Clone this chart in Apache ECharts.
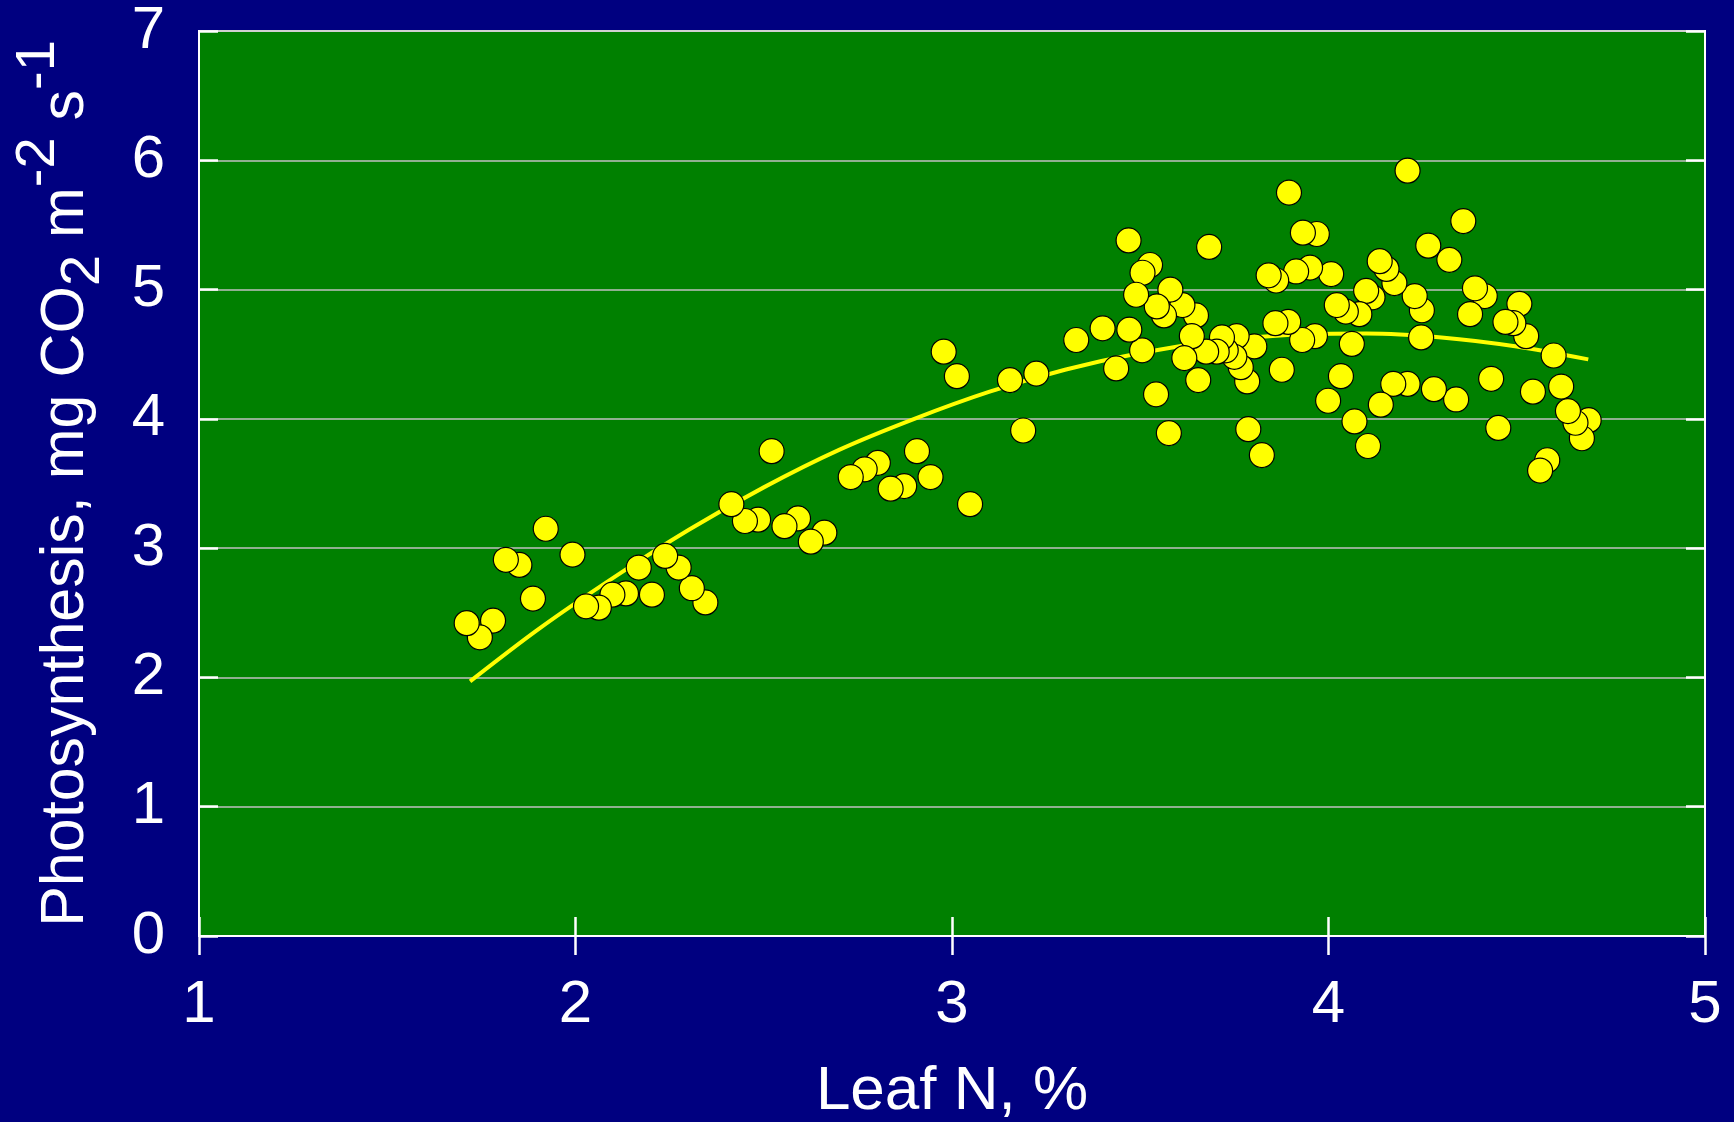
<!DOCTYPE html>
<html>
<head>
<meta charset="utf-8">
<title>Leaf N vs Photosynthesis</title>
<script src="https://cdn.jsdelivr.net/npm/echarts@6/dist/echarts.min.js"></script>
<style>
  html, body { margin: 0; padding: 0; background: #000080; }
  #chart { width: 1734px; height: 1122px; }
</style>
</head>
<body>
<div id="chart"></div>
<script>
const leafN = [1.711, 1.746, 1.781, 1.815, 1.851, 1.887, 1.921, 1.992, 2.028, 2.062, 2.098, 2.134, 2.168, 2.203, 2.238, 2.274, 2.309, 2.345,
  2.414, 2.450, 2.485, 2.521, 2.555, 2.591, 2.625, 2.661,
  2.731, 2.768, 2.803, 2.837, 2.873, 2.907, 2.943, 2.978, 3.013, 3.048,
  3.154, 3.189, 3.224, 3.330, 3.400, 3.436, 3.469, 3.471, 3.489, 3.505, 3.506, 3.526, 3.542, 3.544, 3.563, 3.576, 3.580, 3.612,
  3.617, 3.637, 3.648, 3.654, 3.675, 3.683, 3.703, 3.717, 3.727, 3.750, 3.756, 3.767, 3.784, 3.787, 3.803, 3.823, 3.841, 3.859,
  3.861, 3.876, 3.893, 3.895, 3.914, 3.930, 3.932, 3.951, 3.964, 3.969, 3.999, 4.007, 4.022, 4.033, 4.046, 4.062, 4.069, 4.082,
  4.100, 4.105, 4.117, 4.136, 4.139, 4.154, 4.172, 4.175, 4.210, 4.210, 4.229, 4.246, 4.248, 4.265, 4.280, 4.321, 4.339, 4.358,
  4.376, 4.389, 4.415, 4.432, 4.451, 4.470, 4.491, 4.507, 4.525, 4.543, 4.562, 4.581, 4.598, 4.618, 4.636, 4.656, 4.673, 4.691];
const photosynthesis = [2.42, 2.31, 2.44, 2.91, 2.87, 2.61, 3.15, 2.95, 2.55, 2.54, 2.64, 2.65, 2.85, 2.64, 2.94, 2.85, 2.69, 2.58,
  3.34, 3.21, 3.22, 3.75, 3.17, 3.23, 3.05, 3.12,
  3.55, 3.61, 3.66, 3.46, 3.48, 3.75, 3.55, 4.52, 4.33, 3.34,
  4.30, 3.91, 4.35, 4.61, 4.70, 4.39, 5.38, 4.69, 4.96, 4.53, 5.13, 5.19, 4.19, 4.87, 4.80, 3.89, 5.00, 4.88,
  4.47, 4.64, 4.80, 4.30, 4.52, 5.33, 4.52, 4.63, 4.53, 4.48, 4.64, 4.40, 4.29, 3.92, 4.56, 3.72, 5.11, 4.74,
  5.07, 4.38, 4.75, 5.75, 5.14, 4.61, 5.44, 5.17, 4.64, 5.43, 4.14, 5.12, 4.88, 4.33, 4.83, 4.58, 3.98, 4.81,
  4.99, 3.79, 4.94, 5.22, 4.11, 5.16, 4.27, 5.05, 5.92, 4.27, 4.95, 4.63, 4.84, 5.34, 4.23, 5.23, 4.15, 5.53,
  4.81, 5.01, 4.95, 4.31, 3.93, 4.75, 4.74, 4.89, 4.64, 4.21, 3.60, 3.68, 4.49, 4.25, 4.06, 3.97, 3.85, 3.99];

// fitted curve
const fitN = [1.72, 1.9, 2.1, 2.3, 2.5, 2.7, 2.9, 3.1, 3.3, 3.5, 3.7, 3.9, 4.1, 4.3, 4.5, 4.69];
const fitPhoto = [1.97, 2.37, 2.77, 3.14, 3.47, 3.76, 4.00, 4.21, 4.38, 4.51, 4.60, 4.65, 4.66, 4.63, 4.56, 4.46];

const FONT = '"Liberation Sans", Arial, sans-serif';

var chart = echarts.init(document.getElementById('chart'));

// left points sit on top of their right neighbours in the picture
var points = leafN.map(function (x, i) { return [x, photosynthesis[i]]; }).reverse();
var curve = fitN.map(function (x, i) { return [x, fitPhoto[i]]; });

var tickStyle = { show: true, inside: true, length: 19, lineStyle: { color: '#ffffff', width: 2.5 } };

var option = {
  backgroundColor: '#000080',
  animation: false,
  grid: {
    left: 199, top: 31, right: 29, bottom: 186,
    outerBoundsMode: 'none',
    containLabel: false,
    show: true,
    backgroundColor: '#008000',
    borderColor: '#ffffff',
    borderWidth: 2
  },
  xAxis: [
    {
      type: 'value', min: 1, max: 5, interval: 1,
      position: 'bottom',
      name: 'Leaf N, %',
      nameLocation: 'middle',
      nameGap: 125,
      nameTextStyle: { color: '#ffffff', fontSize: 62, fontFamily: FONT },
      axisLine: { show: true, lineStyle: { color: '#ffffff', width: 2 } },
      axisTick: tickStyle,
      axisLabel: { color: '#ffffff', fontSize: 60, fontFamily: FONT, margin: 39 },
      splitLine: { show: false }
    },
    {
      type: 'value', min: 1, max: 5, interval: 1,
      position: 'top',
      axisLine: { show: true, lineStyle: { color: '#ffffff', width: 2 } },
      axisTick: tickStyle,
      axisLabel: { show: false },
      splitLine: { show: false }
    }
  ],
  yAxis: [
    {
      type: 'value', min: 0, max: 7, interval: 1,
      position: 'left',
      name: '{n|Photosynthesis, mg CO}{sub|2}{n| m}{sup|-2}{n| s}{sup|-1}',
      nameLocation: 'middle',
      nameRotate: 90,
      nameGap: 81,
      nameTextStyle: {
        color: '#ffffff', fontSize: 61, fontFamily: FONT,
        rich: {
          n: { color: '#ffffff', fontSize: 61, fontFamily: FONT, lineHeight: 70, verticalAlign: 'middle' },
          sub: { color: '#ffffff', fontSize: 56, fontFamily: FONT, lineHeight: 56, padding: [36, 0, 0, 0], verticalAlign: 'middle' },
          sup: { color: '#ffffff', fontSize: 56, fontFamily: FONT, lineHeight: 56, padding: [0, 0, 54, 0], verticalAlign: 'middle' }
        }
      },
      axisLine: { show: true, lineStyle: { color: '#ffffff', width: 2 } },
      axisTick: tickStyle,
      axisLabel: { color: '#ffffff', fontSize: 60, fontFamily: FONT, margin: 34 },
      splitLine: { show: true, lineStyle: { color: '#c0c0c0', width: 1.5 } }
    },
    {
      type: 'value', min: 0, max: 7, interval: 1,
      position: 'right',
      axisLine: { show: true, lineStyle: { color: '#ffffff', width: 2 } },
      axisTick: tickStyle,
      axisLabel: { show: false },
      splitLine: { show: false }
    }
  ],
  series: [
    {
      name: 'fit',
      type: 'line',
      data: curve,
      smooth: 0.3,
      showSymbol: false,
      lineStyle: { color: '#ffff00', width: 4 },
      z: 2
    },
    {
      name: 'observed',
      type: 'scatter',
      data: points,
      symbol: 'circle',
      symbolSize: 25,
      itemStyle: { color: '#ffff00', borderColor: '#000000', borderWidth: 1.2, opacity: 1 },
      z: 3
    }
  ]
};

chart.setOption(option);
</script>
</body>
</html>
